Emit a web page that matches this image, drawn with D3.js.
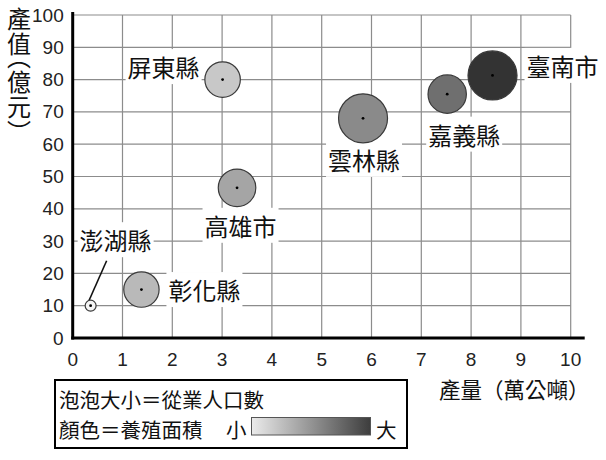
<!DOCTYPE html>
<html>
<head>
<meta charset="utf-8">
<script src="https://cdn.jsdelivr.net/npm/d3@7"></script>
<style>
  body { margin: 0; background: #fff; }
  text { font-family: "Noto Sans CJK TC", "Noto Sans", sans-serif; }
</style>
</head>
<body>
<div id="wrapper"></div>
<script>
// data
const counties = ["澎湖縣", "彰化縣", "屏東縣", "高雄市", "雲林縣", "嘉義縣", "臺南市"]
const output = [0.36, 1.38, 3.01, 3.3, 5.83, 7.52, 8.43]      // 萬公噸
const value = [10, 15, 80, 46.5, 68, 75.5, 81.3]               // 億元
const workers = [1.2, 12.5, 12.6, 14.1, 24, 14.7, 24]          // relative
const area = [-0.05, 0.31, 0.23, 0.41, 0.55, 0.69, 1.0]         // relative
const xTicks = [0, 1, 2, 3, 4, 5, 6, 7, 8, 9, 10]
const yTicks = [0, 10, 20, 30, 40, 50, 60, 70, 80, 90, 100]

function drawChart() {
    let dimensions = {
        width: 606,
        height: 460,
        margin: { top: 15, right: 35.3, bottom: 122, left: 72.7 }
    }
    dimensions.boundedWidth = dimensions.width - dimensions.margin.left - dimensions.margin.right
    dimensions.boundedHeight = dimensions.height - dimensions.margin.top - dimensions.margin.bottom

    const wrapper = d3.select("#wrapper")
        .append("svg")
        .attr("width", dimensions.width)
        .attr("height", dimensions.height)

    const bounds = wrapper.append("g")
        .attr("transform", `translate(${dimensions.margin.left},${dimensions.margin.top})`)

    const xScale = d3.scaleLinear().domain([0, 10]).range([0, dimensions.boundedWidth])
    const yScale = d3.scaleLinear().domain([0, 100]).range([dimensions.boundedHeight, 0])
    const rScale = d3.scaleSqrt().domain([0, 24]).range([0, 24.5])
    const colorScale = d3.scaleLinear().domain([0, 1]).range(["#f5f5f5", "#333333"]).clamp(true)

    // grid
    bounds.append("g").selectAll("line")
        .data(xTicks.slice(1))
        .join("line")
        .attr("x1", d => xScale(d)).attr("x2", d => xScale(d))
        .attr("y1", 0).attr("y2", dimensions.boundedHeight)
        .attr("stroke", "#8c8c8c").attr("stroke-width", 1.2)
    bounds.append("g").selectAll("line")
        .data(yTicks.slice(1))
        .join("line")
        .attr("x1", 0).attr("x2", dimensions.boundedWidth)
        .attr("y1", d => yScale(d)).attr("y2", d => yScale(d))
        .attr("stroke", "#8c8c8c").attr("stroke-width", 1.2)

    // label offsets (layout only)
    const labelOffset = [[25, -66], [63, 0], [-59, -13], [3.5, 37.5], [1, 41], [17, 40], [70, -10]]

    const labels = bounds.append("g")
    counties.forEach((name, i) => {
        const cx = xScale(output[i]) + labelOffset[i][0]
        const cy = yScale(value[i]) + labelOffset[i][1]
        const bg = labels.append("rect").attr("fill", "#fff")
        const t = labels.append("text")
            .attr("x", cx).attr("y", cy)
            .attr("text-anchor", "middle")
            .attr("dominant-baseline", "central")
            .attr("font-size", 24)
            .attr("fill", "#111")
            .text(name)
        const b = t.node().getBBox()
        bg.attr("x", b.x - 2).attr("y", b.y).attr("width", b.width + 4).attr("height", b.height)
    })

    // leader line for 澎湖縣
    const px = xScale(output[0]), py = yScale(value[0])
    bounds.append("line")
        .attr("x1", px - 1.5).attr("y1", py - rScale(workers[0]))
        .attr("x2", px + 16).attr("y2", py - 45)
        .attr("stroke", "#111").attr("stroke-width", 1.6)

    // bubbles
    const bubbles = bounds.append("g").selectAll("g")
        .data(counties.map((c, i) => i))
        .join("g")
        .attr("transform", i => `translate(${xScale(output[i])},${yScale(value[i])})`)
    bubbles.append("circle")
        .attr("r", i => rScale(workers[i]))
        .attr("fill", i => colorScale(area[i]))
        .attr("stroke", "#3a3a3a")
        .attr("stroke-width", 1.2)
    bubbles.append("circle")
        .attr("r", 1.4)
        .attr("fill", "#000")

    // axes
    bounds.append("line")
        .attr("x1", 0).attr("x2", 0)
        .attr("y1", -3).attr("y2", dimensions.boundedHeight + 1.5)
        .attr("stroke", "#000").attr("stroke-width", 3)
    bounds.append("line")
        .attr("x1", -1.5).attr("x2", dimensions.boundedWidth + 14)
        .attr("y1", dimensions.boundedHeight).attr("y2", dimensions.boundedHeight)
        .attr("stroke", "#000").attr("stroke-width", 3)

    bounds.append("g").selectAll("text")
        .data(yTicks)
        .join("text")
        .attr("x", -9)
        .attr("y", d => yScale(d))
        .attr("text-anchor", "end")
        .attr("dominant-baseline", "central")
        .style("font-family", "'Liberation Sans', Arial, sans-serif")
        .attr("font-size", 19)
        .attr("fill", "#222")
        .text(d => d)
    bounds.append("g").selectAll("text")
        .data(xTicks)
        .join("text")
        .attr("x", d => xScale(d))
        .attr("y", dimensions.boundedHeight + 21)
        .attr("text-anchor", "middle")
        .attr("dominant-baseline", "central")
        .style("font-family", "'Liberation Sans', Arial, sans-serif")
        .attr("font-size", 19)
        .attr("fill", "#222")
        .text(d => d)

    // axis titles
    wrapper.append("text")
        .attr("x", 439).attr("y", 388)
        .attr("dominant-baseline", "central")
        .attr("font-size", 21.5)
        .attr("fill", "#111")
        .text("產量（萬公噸）")

    wrapper.append("text")
        .attr("x", 19).attr("y", 7)
        .style("writing-mode", "vertical-rl")
        .style("font-feature-settings", "'vhal' 1")
        .attr("letter-spacing", 1)
        .attr("font-size", 24)
        .attr("fill", "#111")
        .text("產值（億元）")

    // legend
    const legend = wrapper.append("g")
    legend.append("rect")
        .attr("x", 55).attr("y", 380).attr("width", 352).attr("height", 68)
        .attr("fill", "#fff").attr("stroke", "#000").attr("stroke-width", 2)
    legend.append("text")
        .attr("x", 59).attr("y", 398.5)
        .attr("dominant-baseline", "central")
        .attr("font-size", 20.5).attr("fill", "#111")
        .text("泡泡大小＝從業人口數")
    legend.append("text")
        .attr("x", 59).attr("y", 428.5)
        .attr("dominant-baseline", "central")
        .attr("font-size", 20.5).attr("fill", "#111")
        .text("顏色＝養殖面積")
    legend.append("text")
        .attr("x", 226).attr("y", 428.5)
        .attr("dominant-baseline", "central")
        .attr("font-size", 20.5).attr("fill", "#111")
        .text("小")
    legend.append("text")
        .attr("x", 376).attr("y", 428.5)
        .attr("dominant-baseline", "central")
        .attr("font-size", 20.5).attr("fill", "#111")
        .text("大")

    const grad = wrapper.append("defs").append("linearGradient")
        .attr("id", "areaGrad")
    grad.append("stop").attr("offset", "0%").attr("stop-color", colorScale(0.05))
    grad.append("stop").attr("offset", "100%").attr("stop-color", colorScale(0.95))
    legend.append("rect")
        .attr("x", 251.5).attr("y", 417.5).attr("width", 119).attr("height", 17.5)
        .attr("fill", "url(#areaGrad)")
        .attr("stroke", "#555").attr("stroke-width", 1)
}
drawChart()
</script>
</body>
</html>
